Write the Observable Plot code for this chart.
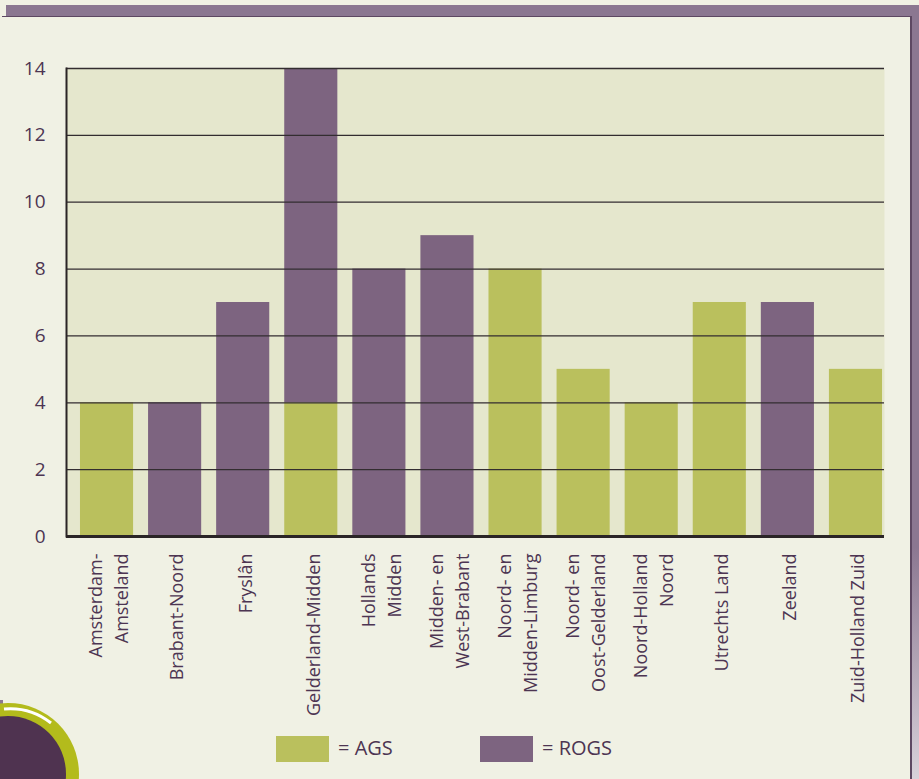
<!DOCTYPE html>
<html>
<head>
<meta charset="utf-8">
<script src="https://cdn.jsdelivr.net/npm/d3@7"></script>
<script src="https://cdn.jsdelivr.net/npm/@observablehq/plot@0.6"></script>
<style>
  html, body { margin: 0; padding: 0; background: #f0f1e4; }
  #wrap { position: relative; width: 919px; height: 779px; overflow: hidden; background: #f0f1e4; font-family: "Open Sans", sans-serif; }
  #topbar { position: absolute; left: 6px; top: 5px; width: 913px; height: 11px; background: #8b7791; }
  #rightbar { position: absolute; left: 911px; top: 5px; width: 8px; height: 774px; background: linear-gradient(#8b7791, #8b7791 70%, #d8d2da); }
  #panelline { position: absolute; left: 2px; top: 16px; width: 909px; height: 1px; background: #5d4862; }
  #panelright { position: absolute; left: 910px; top: 16px; width: 1.5px; height: 763px; background: #5d4862; }
  #chart { position: absolute; left: 0; top: 0; }
  #legend { position: absolute; left: 0; top: 0; width: 919px; height: 779px; pointer-events: none; }
  .sw { position: absolute; top: 736px; width: 53px; height: 26px; }
  .lt { position: absolute; top: 733px; font-size: 20px; color: #4d3552; line-height: 30px; }
  #deco { position: absolute; left: 0; top: 0; }
</style>
</head>
<body>
<div id="wrap">
  <div id="topbar"></div>
  <div id="rightbar"></div>
  <div id="panelline"></div>
  <div id="panelright"></div>
  <div id="chart"></div>
  <div id="legend"></div>
  <svg id="deco" width="919" height="779">
    <rect x="0" y="700" width="3" height="79" fill="#8b7791"></rect>
    <circle cx="8" cy="774" r="71" fill="#b3bb1c"></circle>
    <circle cx="8" cy="774" r="58" fill="#4f3350"></circle>
    <path d="M 4 709 A 66 66 0 0 1 51 723" fill="none" stroke="#ffffff" stroke-width="3"></path>
  </svg>
</div>
<script>
const regions = [
  "Amsterdam-\nAmsteland",
  "Brabant-Noord",
  "Fryslân",
  "Gelderland-Midden",
  "Hollands\nMidden",
  "Midden- en\nWest-Brabant",
  "Noord- en\nMidden-Limburg",
  "Noord- en\nOost-Gelderland",
  "Noord-Holland\nNoord",
  "Utrechts Land",
  "Zeeland",
  "Zuid-Holland Zuid"
];
const agsValues  = [4, 0, 0, 4, 0, 0, 8, 5, 4, 7, 0, 5];
const rogsValues = [0, 4, 7, 10, 8, 9, 0, 0, 0, 0, 7, 0];
const seriesNames = ["AGS", "ROGS"];
const seriesColors = ["#bac05d", "#7d6480"];
const yTicks = [0, 2, 4, 6, 8, 10, 12, 14];

const rows = [];
regions.forEach((r, i) => rows.push({region: r, series: "AGS", value: agsValues[i]}));
regions.forEach((r, i) => rows.push({region: r, series: "ROGS", value: rogsValues[i]}));

const textColor = "#4d3552";

const chart = Plot.plot({
  width: 919,
  height: 779,
  marginLeft: 66,
  marginRight: 35,
  marginTop: 68,
  marginBottom: 243,
  style: {background: "transparent", fontFamily: "Open Sans, sans-serif", color: textColor},
  x: {domain: regions, range: [65, 897], padding: 0.22, round: false, label: null},
  y: {domain: [0, 14], label: null},
  color: {domain: seriesNames, range: seriesColors},
  marks: [
    Plot.frame({fill: "#e5e7cd", stroke: null}),
    Plot.barY(rows, Plot.stackY({x: "region", y: "value", fill: "series"})),
    Plot.gridY(yTicks, {stroke: "#332d30", strokeOpacity: 1, strokeWidth: 1.3}),
    Plot.ruleY([0], {stroke: "#2a2526", strokeWidth: 3}),
    Plot.frame({anchor: "left", stroke: "#2a2526", strokeWidth: 2}),
    Plot.axisY(yTicks, {tickSize: 0, tickPadding: 21, fontSize: 19, fill: textColor, label: null}),
    Plot.axisX({tickSize: 0, tickPadding: 17, tickRotate: -90, fontSize: 18, lineHeight: 1.45, fill: textColor, label: null})
  ]
});
document.getElementById("chart").appendChild(chart);

const legend = document.getElementById("legend");
const legendX = [276, 480];
seriesNames.forEach((name, i) => {
  const sw = document.createElement("div");
  sw.className = "sw";
  sw.style.left = legendX[i] + "px";
  sw.style.background = seriesColors[i];
  legend.appendChild(sw);
  const t = document.createElement("div");
  t.className = "lt";
  t.style.left = (legendX[i] + 62) + "px";
  t.textContent = "= " + name;
  legend.appendChild(t);
});
</script>
</body>
</html>
